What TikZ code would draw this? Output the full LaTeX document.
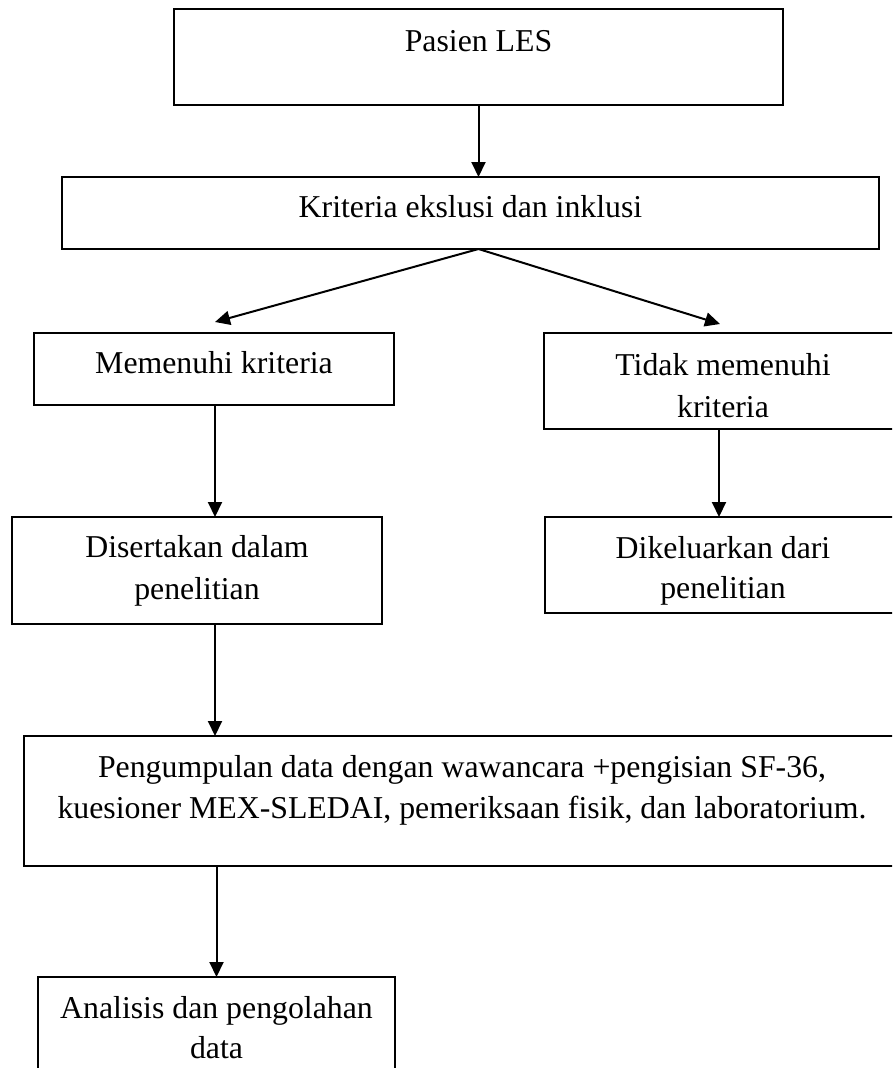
\documentclass[tikz,border=0pt]{standalone}
\usepackage{fontspec}
\setmainfont{Liberation Serif}
\usetikzlibrary{arrows.meta}
\begin{document}
\begin{tikzpicture}[x=1pt,y=-1pt,
 box/.style={draw, line width=1.3pt, inner sep=0pt, outer sep=0pt, anchor=north west},
 lbl/.style={anchor=base, inner sep=0pt, font=\fontsize{31.8}{42}\selectfont},
 conn/.style={line width=2pt, -{Triangle[length=15pt,width=14pt]}}]
\useasboundingbox (0,0) rectangle (892,1068);
\clip (0,0) rectangle (892,1068);
% boxes
\node[box, minimum width=609pt, minimum height=96pt] (b1) at (174,9) {};
\node[box, minimum width=817pt, minimum height=72pt] (b2) at (62,177) {};
\node[box, minimum width=360pt, minimum height=72pt] (b3) at (34,333) {};
\node[box, minimum width=358pt, minimum height=96pt] (b4) at (544,333) {};
\node[box, minimum width=370pt, minimum height=107pt] (b5) at (12,517) {};
\node[box, minimum width=357pt, minimum height=96pt] (b6) at (545,517) {};
\node[box, minimum width=876pt, minimum height=130pt] (b7) at (24,736) {};
\node[box, minimum width=357pt, minimum height=110pt] (b8) at (38,977) {};
% texts
\node[lbl] (t1) at (478.5,51) {Pasien LES};
\node[lbl] (t2) at (470.5,217) {Kriteria ekslusi dan inklusi};
\node[lbl] (t3) at (214,373) {Memenuhi kriteria};
\node[lbl] (t4a) at (723,375) {Tidak memenuhi};
\node[lbl] (t4b) at (723,417) {kriteria};
\node[lbl] (t5a) at (197,557) {Disertakan dalam};
\node[lbl] (t5b) at (197,599) {penelitian};
\node[lbl] (t6a) at (723,558) {Dikeluarkan dari};
\node[lbl] (t6b) at (723,598) {penelitian};
\node[lbl] (t7a) at (462,777) {Pengumpulan data dengan wawancara +pengisian SF-36,};
\node[lbl] (t7b) at (462,818) {kuesioner MEX-SLEDAI, pemeriksaan fisik, dan laboratorium.};
\node[lbl] (t8a) at (216.5,1018) {Analisis dan pengolahan};
\node[lbl] (t8b) at (216.5,1058) {data};
% connectors
\coordinate (split) at (b2.south -| b1.south);
\coordinate (tipL) at (215,322);
\coordinate (tipR) at (720,324);
\draw[conn] (b1.south) -- (b1.south |- b2.north);
\draw[conn] (split) -- (tipL);
\draw[conn] (split) -- (tipR);
\draw[conn] ([xshift=1pt]b3.south) -- ([xshift=1pt]b3.south |- b5.north);
\draw[conn] ([xshift=-4pt]b4.south) -- ([xshift=-4pt]b4.south |- b6.north);
\draw[conn] ([xshift=1pt]b3.south |- b5.south) -- ([xshift=1pt]b3.south |- b7.north);
\draw[conn] (b8.north |- b7.south) -- (b8.north);
\end{tikzpicture}
\end{document}
